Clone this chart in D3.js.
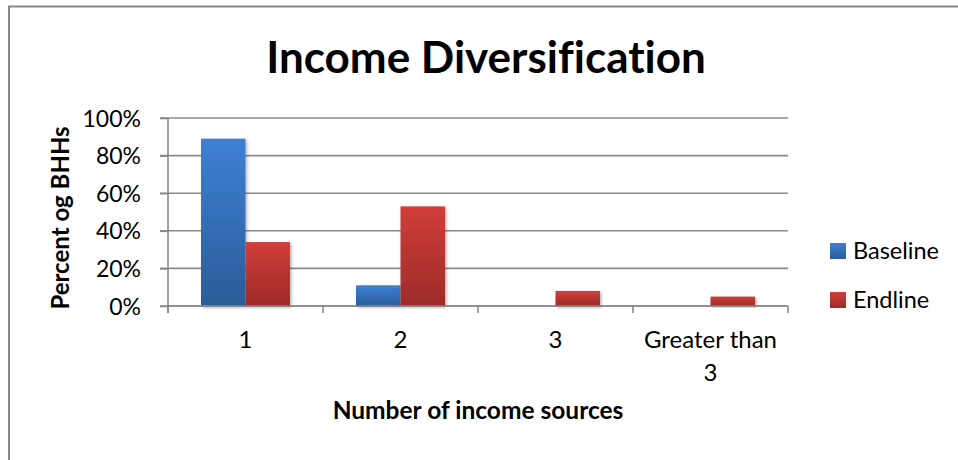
<!DOCTYPE html>
<html>
<head>
<meta charset="utf-8">
<script src="https://cdn.jsdelivr.net/npm/d3@7"></script>
<style>
  html, body { margin: 0; padding: 0; background: #fff; }
  svg { display: block; }
  text { font-family: Lato, "Open Sans", sans-serif; fill: #000; font-variant-ligatures: none; font-feature-settings: "liga" 0, "clig" 0; }
</style>
</head>
<body>
<svg id="chart" width="958" height="460"></svg>
<script>
// ---- data ----
const categories = ["1", "2", "3", "Greater than 3"];
const categoryLabels = [["1"], ["2"], ["3"], ["Greater than", "3"]];
const seriesNames = ["Baseline", "Endline"];
const baseline = [0.89, 0.11, 0, 0];
const endline = [0.34, 0.53, 0.08, 0.05];
const yTicks = [0, 0.2, 0.4, 0.6, 0.8, 1.0];
const titleText = "Income Diversification";
const xTitle = "Number of income sources";
const yTitle = "Percent og BHHs";

const seriesValues = [baseline, endline];
const rows = categories.map((c, i) => ({
  cat: c,
  vals: seriesNames.map((s, j) => ({ series: s, value: seriesValues[j][i] }))
}));

const svg = d3.select("#chart");
const defs = svg.append("defs");

const grads = {
  Baseline: ["#3d80d4", "#2c5c98"],
  Endline: ["#d23e3a", "#9d2b29"]
};
Object.entries(grads).forEach(([k, [c0, c1]]) => {
  const g = defs.append("linearGradient").attr("id", "g-" + k)
    .attr("x1", 0).attr("y1", 0).attr("x2", 0).attr("y2", 1);
  g.append("stop").attr("offset", "0%").attr("stop-color", c0);
  g.append("stop").attr("offset", "100%").attr("stop-color", c1);
});
const f = defs.append("filter").attr("id", "shadow")
  .attr("x", "-20%").attr("y", "-20%").attr("width", "140%").attr("height", "140%");
f.append("feDropShadow").attr("dx", 1.5).attr("dy", 1.5).attr("stdDeviation", 1.8)
  .attr("flood-color", "#000").attr("flood-opacity", 0.3);

// frame
svg.append("path").attr("d", "M9,470 V6.5 H958")
  .attr("fill", "none").attr("stroke", "#888").attr("stroke-width", 2);

// scales
const x0 = d3.scaleBand().domain(categories).range([168, 788]).padding(0);
const x1 = d3.scaleBand().domain(seriesNames).range([0, x0.bandwidth()])
  .paddingInner(0).paddingOuter(0.742);
const y = d3.scaleLinear().domain([0, 1]).range([306, 118]);

// gridlines
svg.append("g").selectAll("line").data(yTicks).join("line")
  .attr("x1", 160).attr("x2", 788)
  .attr("y1", d => y(d)).attr("y2", d => y(d))
  .attr("stroke", "#8a8a8a").attr("stroke-width", 1.6);

// y axis
const yAxis = svg.append("g").attr("transform", "translate(168,0)")
  .call(d3.axisLeft(y).tickValues(yTicks).tickFormat(d3.format(".0%")).tickSize(8).tickPadding(19));
yAxis.select(".domain").remove();
yAxis.selectAll(".tick line").attr("stroke", "#8a8a8a").attr("stroke-width", 1.6);
yAxis.selectAll(".tick text").attr("font-size", 23).attr("font-family", "Lato")
  .attr("fill", "#000").attr("dy", "0.35em");
svg.append("line").attr("x1", 168).attr("x2", 168).attr("y1", 118).attr("y2", 313)
  .attr("stroke", "#8a8a8a").attr("stroke-width", 1.6);

// bars
const groups = svg.append("g").selectAll("g").data(rows).join("g")
  .attr("transform", d => `translate(${x0(d.cat)},0)`);
groups.selectAll("rect").data(d => d.vals.filter(v => v.value > 0)).join("rect")
  .attr("x", d => x1(d.series))
  .attr("width", x1.bandwidth())
  .attr("y", d => y(d.value))
  .attr("height", d => y(0) - y(d.value))
  .attr("fill", d => `url(#g-${d.series})`)
  .attr("filter", "url(#shadow)");

// x axis
svg.append("line").attr("x1", 168).attr("x2", 788).attr("y1", 306).attr("y2", 306)
  .attr("stroke", "#8a8a8a").attr("stroke-width", 1.6);
const bounds = categories.map(c => x0(c)).concat([x0.range()[1]]);
svg.append("g").selectAll("line").data(bounds).join("line")
  .attr("x1", d => d).attr("x2", d => d).attr("y1", 306).attr("y2", 313)
  .attr("stroke", "#8a8a8a").attr("stroke-width", 1.6);

const xl = svg.append("g").selectAll("text").data(categories).join("text")
  .attr("x", d => x0(d) + x0.bandwidth() / 2)
  .attr("y", 348)
  .attr("text-anchor", "middle")
  .attr("font-size", 24);
xl.selectAll("tspan").data((d, i) => categoryLabels[i]).join("tspan")
  .attr("x", function () { return d3.select(this.parentNode).attr("x"); })
  .attr("dy", (d, i) => i === 0 ? 0 : 33)
  .text(d => d);

// title
svg.append("text").attr("x", 486).attr("y", 73).attr("text-anchor", "middle")
  .attr("font-size", 44).attr("font-weight", "bold").text(titleText);

// axis titles
svg.append("text").attr("x", 478).attr("y", 419).attr("text-anchor", "middle")
  .attr("font-size", 24.5).attr("font-weight", "bold").text(xTitle);
svg.append("text").attr("transform", "translate(68.5,218) rotate(-90)")
  .attr("text-anchor", "middle").attr("font-size", 24).attr("font-weight", "bold").text(yTitle);

// legend
const leg = svg.append("g").selectAll("g").data(seriesNames).join("g")
  .attr("transform", (d, i) => `translate(830,${243 + i * 49})`);
leg.append("rect").attr("width", 16).attr("height", 16)
  .attr("fill", d => `url(#g-${d})`);
leg.append("text").attr("x", 23).attr("y", 15.5).attr("font-size", 23.5).text(d => d);
</script>
</body>
</html>
